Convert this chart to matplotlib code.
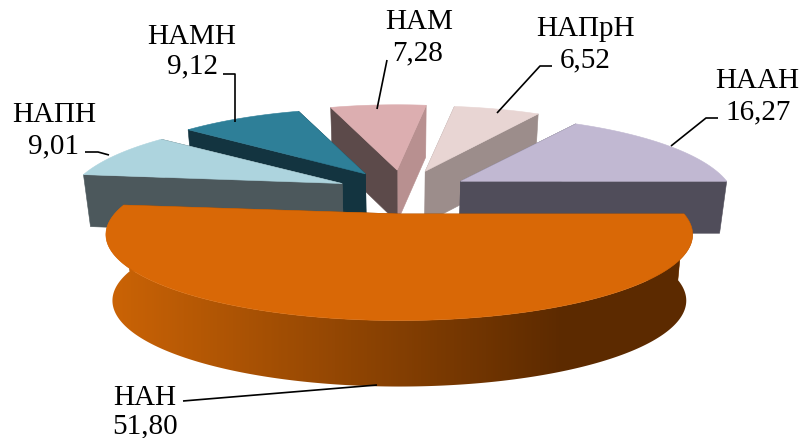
import numpy as np
import matplotlib
matplotlib.use("Agg")
import matplotlib.pyplot as plt
from matplotlib.colors import LinearSegmentedColormap
from matplotlib.patches import Polygon

# --- data (clockwise from the right-hand edge of the largest slice)
labels = ["НАН", "НАПН", "НАМН", "НАМ", "НАПрН", "НААН"]
values = [51.80, 9.01, 9.12, 7.28, 6.52, 16.27]

# --- style
top_colors = ["#D96806", "#ADD4DE", "#2E7F98", "#DCAEB0", "#E8D5D3", "#C1B8D2"]
wall_a_colors = ["#8A4404", "#4C585C", "#133440", "#5C4A4A", "#9C8D8B", "#504D5A"]
wall_b_colors = ["#8A4404", "#4C585C", "#133440", "#B89090", "#9C8D8B", "#504D5A"]
depths = [66, 52, 52, 52, 52, 52]
draw_order = [3, 4, 2, 1, 5, 0]
CX, CY = 403, 192          # pie centre, px
EX, EY = 66, 22            # explosion, px
A, B, K = 272, 81, 0.24    # projection
SCALE_K = 0.045
SHRINK = 0.978

label_pos = [(145, 398), (54, 115), (192, 37), (419, 22), (585, 29), (757, 81)]
value_pos = [(145, 426), (54, 146), (193, 66), (418, 53), (585, 60), (758, 112)]
leaders = [
    [(183, 401), (195, 400), (377, 385)],
    [(85, 152), (98, 152), (109, 155)],
    [(223, 74), (235, 74), (235, 122)],
    [(387, 60), (377, 109)],
    [(497, 113), (540, 66), (552, 66)],
    [(671, 146), (706, 118), (718, 118)],
]

fig = plt.figure(figsize=(8.03, 4.38), dpi=100)
ax = fig.add_axes([0, 0, 1, 1])
ax.set_xlim(0, 803)
ax.set_ylim(438, 0)
ax.axis("off")

fracs = np.array(values) / sum(values) * 360.0
starts = -np.concatenate([[0], np.cumsum(fracs)[:-1]])
ends = starts - fracs
rim_cmap = LinearSegmentedColormap.from_list("rim", ["#CC6406", "#5C2A00"])


def poly(pts, color, z):
    ax.add_patch(Polygon(pts, closed=True, facecolor=color, edgecolor=color,
                         linewidth=0.4, zorder=z))


def draw_slice(i, z):
    a, b = starts[i], ends[i]
    mid = np.radians((a + b) / 2)
    ax0 = CX + EX * np.cos(mid)
    ay0 = CY - EY * np.sin(mid)
    s = 1 / (1 + SCALE_K * np.sin(mid))
    D = depths[i]

    def proj(deg):
        t = np.radians(deg)
        u, v = np.cos(t), np.sin(t)
        w = 1 + K * v
        return ax0 + A * s * u / w, ay0 - B * v / w

    def low(p):
        return CX + (p[0] - CX) * SHRINK, p[1] + D

    apex = (ax0, ay0)
    walls = []
    for deg, col in ((a, wall_a_colors[i]), (b, wall_b_colors[i])):
        p = proj(deg)
        walls.append((p[1], [apex, p, low(p), low(apex)], col))
    for _, pts, col in sorted(walls, key=lambda w: w[0]):
        poly(pts, col, z)

    arc = np.linspace(a, b, 240)
    if np.sin(mid) < 0:  # front rim, shaded left to right
        upper = [proj(d) for d in arc]
        outline = upper + [low(p) for p in upper[::-1]]
        xs = [p[0] for p in outline]
        ys = [p[1] for p in outline]
        grad = np.clip((np.linspace(100, 700, 600) - 105) / (565 - 105), 0, 1)[None, :]
        im = ax.imshow(grad, extent=(100, 700, max(ys) + 2, min(ys) - 2), cmap=rim_cmap,
                       vmin=0, vmax=1, aspect="auto", zorder=z + 0.1)
        clip = Polygon(outline, closed=True, transform=ax.transData)
        im.set_clip_path(clip)

    poly([apex] + [proj(d) for d in arc], top_colors[i], z + 0.2)


for n, i in enumerate(draw_order):
    draw_slice(i, 2 + n)
ax.set_xlim(0, 803)
ax.set_ylim(438, 0)

font = dict(family="Liberation Serif", fontsize=21, color="black",
            ha="center", va="center", zorder=20)
for name, val, lp, vp, ln in zip(labels, values, label_pos, value_pos, leaders):
    ax.text(lp[0], lp[1], name, **font)
    ax.text(vp[0], vp[1], f"{val:.2f}".replace(".", ","), **font)
    xs, ys = zip(*ln)
    ax.plot(xs, ys, color="black", lw=1.2, zorder=19, solid_capstyle="butt")

fig.savefig("out.png", dpi=100, facecolor="white")
